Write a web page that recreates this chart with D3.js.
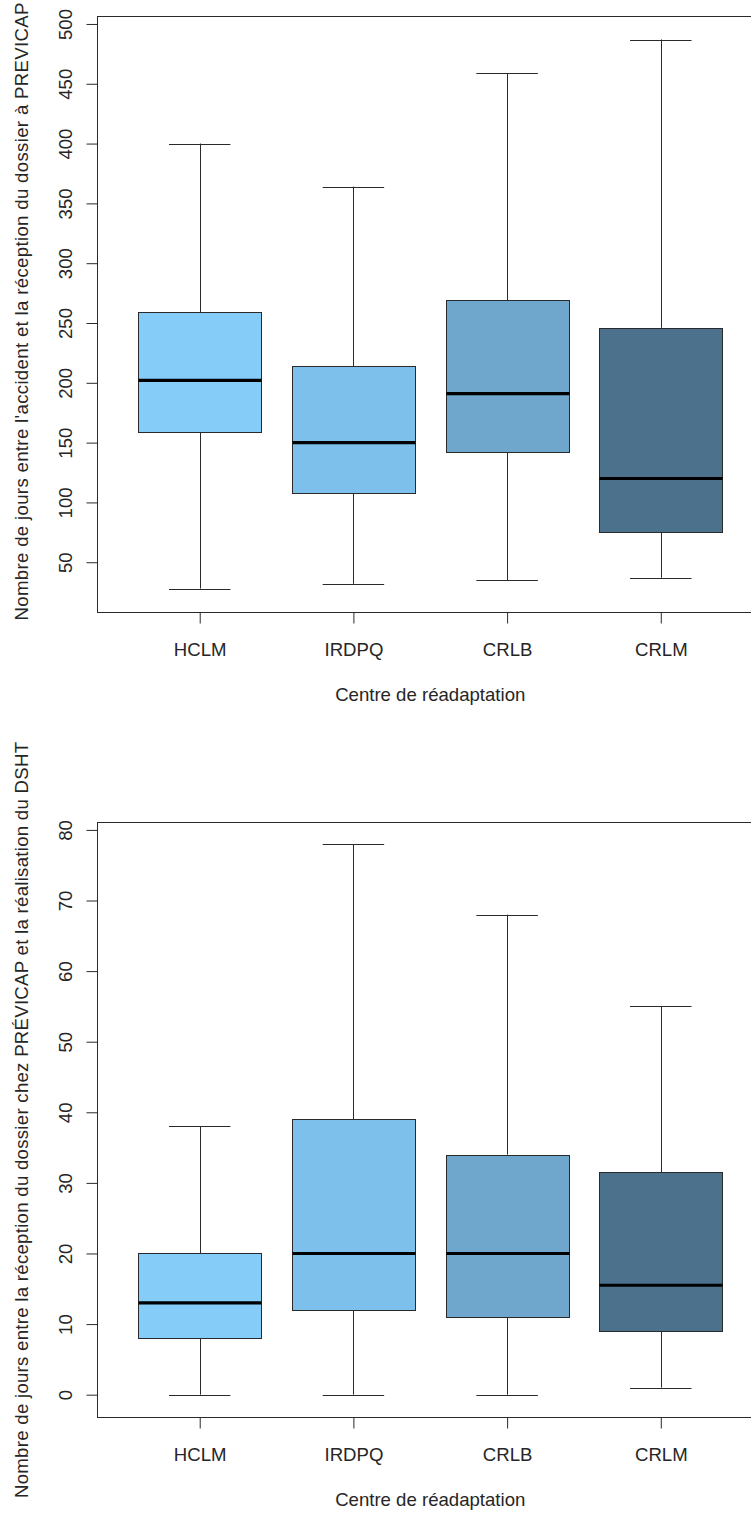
<!DOCTYPE html>
<html>
<head>
<meta charset="utf-8">
<script src="https://cdn.jsdelivr.net/npm/d3@7"></script>
<style>
  html, body { margin: 0; padding: 0; background: #fff; }
  svg { display: block; }
  text { font-family: "Liberation Sans", Arial, sans-serif; fill: #262626; }
</style>
</head>
<body>
<script>
// ---- data ----
const categories = ["HCLM", "IRDPQ", "CRLB", "CRLM"];
const boxColors = ["#85CCF9", "#7EC0EC", "#6FA6CB", "#4C718D"];

// Chart 1: jours entre l'accident et la réception du dossier
const accMin = [28, 32, 35, 37];
const accQ1  = [159, 108, 142, 75];
const accMed = [202, 150, 191, 120];
const accQ3  = [259, 214, 269, 246];
const accMax = [400, 364, 459, 487];
const accTicks = [50, 100, 150, 200, 250, 300, 350, 400, 450, 500];

// Chart 2: jours entre réception et réalisation du DSHT
const dshtMin = [0, 0, 0, 1];
const dshtQ1  = [8, 12, 11, 9];
const dshtMed = [13, 20, 20, 15.5];
const dshtQ3  = [20, 39, 34, 31.5];
const dshtMax = [38, 78, 68, 55];
const dshtTicks = [0, 10, 20, 30, 40, 50, 60, 70, 80];

const xTitle = "Centre de réadaptation";
const yTitle1 = "Nombre de jours entre l'accident et la réception du dossier à PREVICAP";
const yTitle2 = "Nombre de jours entre la réception du dossier chez PRÉVICAP et la réalisation du DSHT";

// ---- drawing ----
const W = 751, H = 1514;
const svg = d3.select("body").append("svg").attr("width", W).attr("height", H);
svg.append("rect").attr("width", W).attr("height", H).attr("fill", "#fff");

const FONT = 18.6;
const LINE = "#2a2a2a";

function drawChart(cfg) {
  const left = 97.5, right = 763;
  const x = d3.scaleLinear().domain([0.335, 4.665]).range([left, right]);
  const y = d3.scaleLinear().domain(cfg.yDomain).range([cfg.bottom, cfg.top]);
  const g = svg.append("g");
  const unit = x(2) - x(1);
  const boxW = 0.8 * unit, capW = 0.4 * unit;

  const data = categories.map((c, i) => ({
    c, i, pos: i + 1,
    min: cfg.min[i], q1: cfg.q1[i], med: cfg.med[i], q3: cfg.q3[i], max: cfg.max[i],
    color: boxColors[i]
  }));

  const bx = g.selectAll("g.box").data(data).join("g").attr("class", "box");
  // whiskers
  bx.append("line")
    .attr("x1", d => Math.round(x(d.pos)) + 0.5).attr("x2", d => Math.round(x(d.pos)) + 0.5)
    .attr("y1", d => y(d.max)).attr("y2", d => y(d.q3))
    .attr("stroke", LINE).attr("stroke-width", 1);
  bx.append("line")
    .attr("x1", d => Math.round(x(d.pos)) + 0.5).attr("x2", d => Math.round(x(d.pos)) + 0.5)
    .attr("y1", d => y(d.q1)).attr("y2", d => y(d.min))
    .attr("stroke", LINE).attr("stroke-width", 1);
  // caps
  bx.append("line")
    .attr("x1", d => x(d.pos) - capW / 2).attr("x2", d => x(d.pos) + capW / 2)
    .attr("y1", d => Math.round(y(d.max)) + 0.5).attr("y2", d => Math.round(y(d.max)) + 0.5)
    .attr("stroke", LINE).attr("stroke-width", 1);
  bx.append("line")
    .attr("x1", d => x(d.pos) - capW / 2).attr("x2", d => x(d.pos) + capW / 2)
    .attr("y1", d => Math.round(y(d.min)) + 0.5).attr("y2", d => Math.round(y(d.min)) + 0.5)
    .attr("stroke", LINE).attr("stroke-width", 1);
  // box
  bx.append("rect")
    .attr("x", d => Math.round(x(d.pos) - boxW / 2) + 0.5)
    .attr("y", d => Math.round(y(d.q3)) + 0.5)
    .attr("width", d => Math.round(boxW))
    .attr("height", d => Math.round(y(d.q1)) - Math.round(y(d.q3)))
    .attr("fill", d => d.color)
    .attr("stroke", LINE).attr("stroke-width", 1);
  // median
  bx.append("line")
    .attr("x1", d => Math.round(x(d.pos) - boxW / 2) + 0.5)
    .attr("x2", d => Math.round(x(d.pos) - boxW / 2) + 0.5 + Math.round(boxW))
    .attr("y1", d => y(d.med)).attr("y2", d => y(d.med))
    .attr("stroke", "#000").attr("stroke-width", 3.2);

  // frame
  g.append("rect")
    .attr("x", left).attr("y", Math.round(cfg.top) + 0.5)
    .attr("width", right - left).attr("height", Math.round(cfg.bottom) - Math.round(cfg.top))
    .attr("fill", "none").attr("stroke", LINE).attr("stroke-width", 1);

  // y axis
  const ya = g.append("g").attr("transform", `translate(${left},0)`)
    .call(d3.axisLeft(y).tickValues(cfg.ticks).tickSize(11).tickSizeOuter(0).tickFormat(d3.format("d")));
  ya.select(".domain").remove();
  ya.selectAll(".tick line").attr("stroke", LINE);
  ya.selectAll(".tick text")
    .attr("x", 0).attr("y", -26).attr("dy", 0)
    .attr("transform", "rotate(-90)")
    .attr("text-anchor", "middle")
    .style("font-size", FONT + "px").style("font-family", '"Liberation Sans", Arial, sans-serif')
    .attr("fill", "#262626");

  // x axis
  const xa = g.append("g").attr("transform", `translate(0,${Math.round(cfg.bottom) + 0.5})`)
    .call(d3.axisBottom(x).tickValues([1, 2, 3, 4]).tickSize(11).tickSizeOuter(0)
      .tickFormat(d => categories[d - 1]));
  xa.select(".domain").remove();
  xa.selectAll(".tick line").attr("stroke", LINE);
  xa.selectAll(".tick text")
    .attr("y", 43.5).attr("dy", 0)
    .style("font-size", FONT + "px").style("font-family", '"Liberation Sans", Arial, sans-serif')
    .attr("fill", "#262626");

  // titles
  g.append("text")
    .attr("x", x(2.5)).attr("y", cfg.bottom + 89)
    .attr("text-anchor", "middle").style("font-size", FONT + "px")
    .text(xTitle);
  g.append("text")
    .attr("transform", `translate(27.5,${cfg.yTitleCenter}) rotate(-90)`)
    .attr("text-anchor", "middle").style("font-size", FONT + "px")
    .attr("textLength", cfg.yTitleLen).attr("lengthAdjust", "spacing")
    .text(cfg.yTitle);
}

drawChart({
  top: 16.3, bottom: 612, yDomain: [8.4, 506.4], ticks: accTicks,
  min: accMin, q1: accQ1, med: accMed, q3: accQ3, max: accMax,
  yTitle: yTitle1, yTitleCenter: 311.5, yTitleLen: 618
});
drawChart({
  top: 822, bottom: 1416.7, yDomain: [-3.12, 81.12], ticks: dshtTicks,
  min: dshtMin, q1: dshtQ1, med: dshtMed, q3: dshtQ3, max: dshtMax,
  yTitle: yTitle2, yTitleCenter: 1120, yTitleLen: 756
});
</script>
</body>
</html>
